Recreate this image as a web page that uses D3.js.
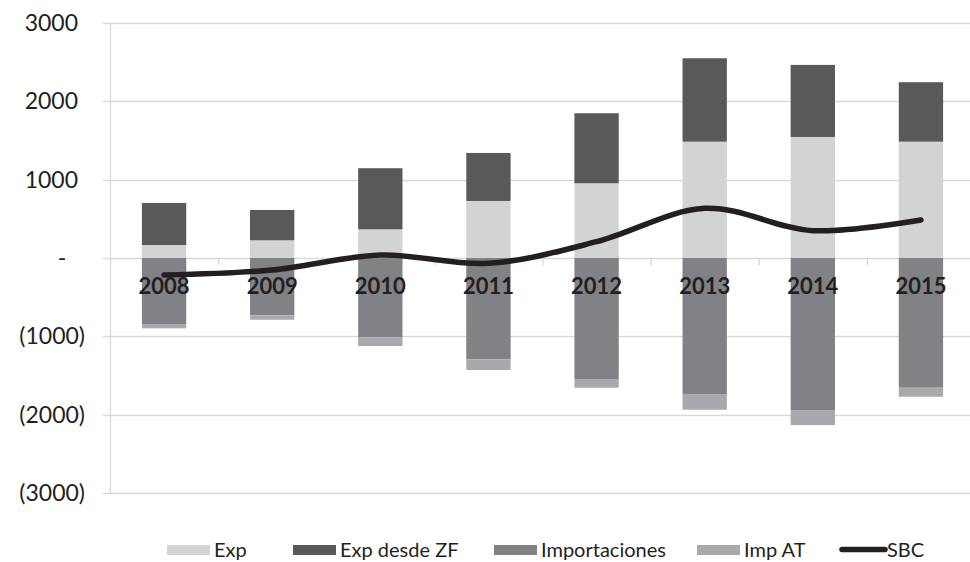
<!DOCTYPE html>
<html>
<head>
<meta charset="utf-8">
<script src="https://cdn.jsdelivr.net/npm/d3@7"></script>
<style>
  body { margin: 0; background: #fff; }
  text { font-family: Lato, "Open Sans", sans-serif; fill: #231f20; }
</style>
</head>
<body>
<script>
var years = ["2008", "2009", "2010", "2011", "2012", "2013", "2014", "2015"];
var exp = [166, 226, 366, 728, 954, 1485, 1545, 1485];
var expZF = [536, 387, 780, 613, 894, 1065, 920, 759];
var importaciones = [-843, -732, -1013, -1294, -1545, -1737, -1941, -1656];
var impAT = [-55, -56, -111, -136, -111, -200, -192, -115];
var sbc = [-217, -153, 38, -68, 208, 634, 349, 485];
var yTicks = [-3000, -2000, -1000, 0, 1000, 2000, 3000];

var keys = ["Exp", "Exp desde ZF", "Importaciones", "Imp AT"];
var colors = { "Exp": "#d1d3d4", "Exp desde ZF": "#58595b", "Importaciones": "#808285", "Imp AT": "#a7a9ac" };

var rows = years.map(function(y, i) {
    return { year: y, "Exp": exp[i], "Exp desde ZF": expZF[i], "Importaciones": importaciones[i], "Imp AT": impAT[i] };
});

var width = 970, height = 562;
var margin = { top: 23, right: -5, bottom: 69, left: 110 };

var svg = d3.select("body").append("svg")
    .attr("width", width)
    .attr("height", height);

var x = d3.scaleBand().domain(years).range([margin.left, width - margin.right]);
var y = d3.scaleLinear().domain([-3000, 3000]).range([height - margin.bottom, margin.top]);
var barW = x.bandwidth() * 0.41;

// gridlines
svg.append("g")
    .selectAll("line")
    .data(yTicks)
    .join("line")
    .attr("x1", margin.left - 7)
    .attr("x2", width - margin.right)
    .attr("y1", function(d) { return Math.round(y(d)) + 0.5; })
    .attr("y2", function(d) { return Math.round(y(d)) + 0.5; })
    .style("stroke", "#d9d9d9")
    .style("stroke-width", 1.3);

// y axis
var yAxis = svg.append("g")
    .attr("transform", "translate(" + margin.left + ",0)")
    .call(d3.axisLeft(y).tickValues(yTicks).tickSize(0).tickFormat(function(d) {
        if (d === 0) return "-";
        return d < 0 ? "(" + Math.abs(d) + ")" : String(d);
    }));
yAxis.select(".domain").style("stroke", "#d9d9d9").style("stroke-width", 1.3);
yAxis.selectAll("text")
    .style("font-size", "23px")
    .style("font-family", "Lato, sans-serif")
    .attr("fill", "#231f20")
    .attr("x", function(d) { return d === 0 ? -48 : (d < 0 ? -25 : -32); })
    .style("text-anchor", function(d) { return d === 0 ? "middle" : "end"; });

// stacked bars
var series = d3.stack().keys(keys).offset(d3.stackOffsetDiverging)(rows);

svg.append("g")
    .selectAll("g")
    .data(series)
    .join("g")
    .attr("fill", function(d) { return colors[d.key]; })
    .selectAll("rect")
    .data(function(d) { return d; })
    .join("rect")
    .attr("x", function(d) { return x(d.data.year) + (x.bandwidth() - barW) / 2; })
    .attr("y", function(d) { return y(d[1]); })
    .attr("height", function(d) { return y(d[0]) - y(d[1]); })
    .attr("width", barW);

// x axis ticks at zero line
var xAxis = svg.append("g")
    .attr("transform", "translate(0," + (Math.round(y(0)) + 0.5) + ")")
    .call(d3.axisBottom(d3.scaleLinear().domain([0, years.length]).range(x.range()))
        .ticks(years.length).tickSize(7).tickFormat(""));
xAxis.select(".domain").remove();
xAxis.selectAll("line").style("stroke", "#d9d9d9").style("stroke-width", 1.3);

// category labels
svg.append("g")
    .selectAll("text")
    .data(years)
    .join("text")
    .attr("x", function(d) { return x(d) + x.bandwidth() / 2; })
    .attr("y", y(0) + 36)
    .style("text-anchor", "middle")
    .style("font-size", "22px")
    .style("font-weight", 700)
    .text(function(d) { return d; });

// SBC line
var line = d3.line()
    .x(function(d, i) { return x(years[i]) + x.bandwidth() / 2; })
    .y(function(d) { return y(d); })
    .curve(d3.curveCardinal.tension(0));

svg.append("path")
    .datum(sbc)
    .attr("d", line)
    .style("fill", "none")
    .style("stroke", "#231f20")
    .style("stroke-width", 5.5)
    .style("stroke-linecap", "round");

// legend
var legendItems = [
    { name: "Exp", x: 167 },
    { name: "Exp desde ZF", x: 293 },
    { name: "Importaciones", x: 494 },
    { name: "Imp AT", x: 697 },
    { name: "SBC", x: 840 }
];
var legend = svg.append("g");
legendItems.forEach(function(it) {
    if (it.name === "SBC") {
        legend.append("line")
            .attr("x1", it.x + 2).attr("x2", it.x + 45)
            .attr("y1", 549.5).attr("y2", 549.5)
            .style("stroke", "#231f20")
            .style("stroke-width", 5.5)
            .style("stroke-linecap", "round");
    } else {
        legend.append("rect")
            .attr("x", it.x).attr("y", 545)
            .attr("width", 43).attr("height", 10)
            .attr("fill", colors[it.name]);
    }
    legend.append("text")
        .attr("x", it.x + 47)
        .attr("y", 557)
        .style("font-size", "20px")
        .text(it.name);
});
</script>
</body>
</html>
